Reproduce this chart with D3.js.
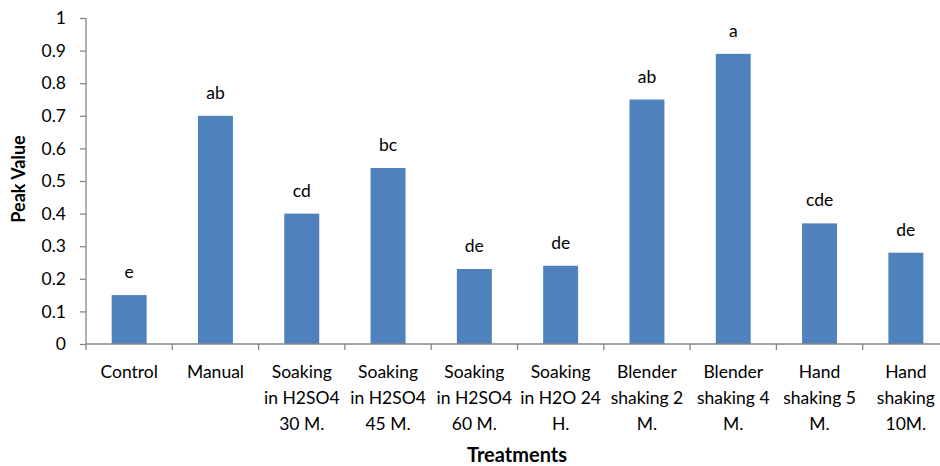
<!DOCTYPE html>
<html><head><meta charset="utf-8">
<script src="https://cdn.jsdelivr.net/npm/d3@7"></script>
<style>body{margin:0;background:#fff;} svg{display:block;font-family:Lato,"Open Sans",sans-serif;}</style>
</head><body><svg id="c" width="940" height="466"></svg>
<script>
const categories = [
  ["Control"], ["Manual"], ["Soaking","in H2SO4","30 M."], ["Soaking","in H2SO4","45 M."],
  ["Soaking","in H2SO4","60 M."], ["Soaking","in H2O 24","H."], ["Blender","shaking 2","M."],
  ["Blender","shaking 4","M."], ["Hand","shaking 5","M."], ["Hand","shaking","10M."]
];
const values = [0.15, 0.70, 0.40, 0.54, 0.23, 0.24, 0.75, 0.89, 0.37, 0.28];
const letters = ["e","ab","cd","bc","de","de","ab","a","cde","de"];
const yTicks = [0,0.1,0.2,0.3,0.4,0.5,0.6,0.7,0.8,0.9,1];

const svg = d3.select("#c");
const axisColor = "#868686";
const x = d3.scaleBand().domain(d3.range(categories.length)).range([86, 949]).padding(0);
const y = d3.scaleLinear().domain([0,1]).range([344, 18]);
const bw = x.bandwidth()*0.405;

// y axis
const ya = svg.append("g").attr("transform","translate(86,0)")
  .call(d3.axisLeft(y).tickValues(yTicks).tickSize(6).tickPadding(14).tickFormat(d3.format("~g")));
ya.select(".domain").attr("stroke",axisColor).attr("stroke-width",1.3).attr("d","M0,18V344");
ya.selectAll(".tick line").attr("stroke",axisColor).attr("stroke-width",1.3);
ya.selectAll(".tick text").attr("font-size",17.5).attr("fill","#000").attr("font-family","Lato");

// bars
svg.append("g").selectAll("rect").data(values).join("rect")
  .attr("x",(d,i)=>x(i)+x.bandwidth()/2-bw/2)
  .attr("y",d=>y(d)).attr("width",bw).attr("height",d=>y(0)-y(d))
  .attr("fill","#4F81BD");

// letters
svg.append("g").selectAll("text").data(values).join("text")
  .attr("x",(d,i)=>x(i)+x.bandwidth()/2).attr("y",d=>y(d)-17)
  .attr("text-anchor","middle").attr("font-size",17.5).attr("fill","#000")
  .text((d,i)=>letters[i]);

// x axis
const xa = svg.append("g").attr("transform","translate(0,344)");
xa.append("line").attr("x1",86).attr("x2",949).attr("stroke",axisColor).attr("stroke-width",1.3);
xa.selectAll("line.t").data(d3.range(categories.length+1)).join("line").attr("class","t")
  .attr("x1",i=>86+i*x.step()).attr("x2",i=>86+i*x.step()).attr("y1",0).attr("y2",6)
  .attr("stroke",axisColor).attr("stroke-width",1.3);
const lab = xa.selectAll("text").data(categories).join("text")
  .attr("text-anchor","middle").attr("font-size",17.5).attr("fill","#000")
  .attr("transform",(d,i)=>`translate(${x(i)+x.bandwidth()/2},34)`);
lab.selectAll("tspan").data(d=>d).join("tspan").attr("x",0).attr("y",(d,j)=>j*25.8).text(d=>d);

// titles
svg.append("text").attr("x",517).attr("y",462).attr("text-anchor","middle")
  .attr("font-size",20).attr("font-weight","bold").text("Treatments");
svg.append("text").attr("transform","translate(25,179) rotate(-90)").attr("text-anchor","middle")
  .attr("font-size",18).attr("font-weight","bold").text("Peak Value");
</script></body></html>
